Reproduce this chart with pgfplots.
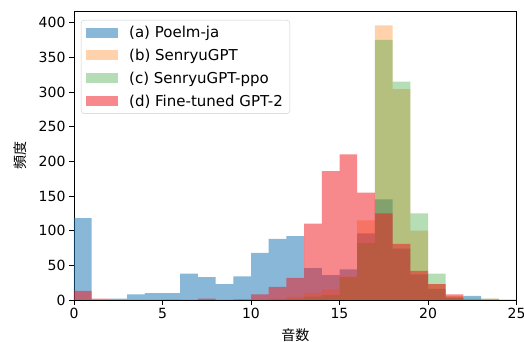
\documentclass[border=0pt]{standalone}
\usepackage{fontspec}
\setmainfont{DejaVu Sans}
\newfontfamily\jp{Noto Sans CJK JP}
\usepackage{pgfplots}
\pgfplotsset{compat=1.18}
\definecolor{tabblue}{RGB}{31,119,180}
\definecolor{taborange}{RGB}{255,127,14}
\definecolor{tabgreen}{RGB}{44,160,44}
\definecolor{tabred}{RGB}{240,20,28}
\pgfplotsset{
  patch/.style 2 args={legend image code/.code={\fill[sharp corners, draw=none, fill=#1, fill opacity=#2] (0pt,-5pt) rectangle (32pt,5pt); \path[sharp corners, draw=none, fill=none] (0pt,-10pt) rectangle (41pt,10pt);}}
}
\begin{document}
\begin{tikzpicture}
\begin{axis}[
  name=ax,
  scale only axis,
  width=442.5pt, height=288.3pt,
  xmin=0, xmax=25, ymin=0, ymax=415.8,
  xtick={0,5,...,25}, ytick={0,50,...,400},
  tick align=outside, xtick pos=bottom, ytick pos=left,
  major tick length=5pt,
  tick style={black, line width=0.8pt},
  axis line style={black, line width=0.9pt},
  ticklabel style={font=\fontsize{14}{16}\selectfont},
  /pgf/number format/assume math mode=true,
  xlabel={\jp 音数}, ylabel={\jp 頻度},
  xlabel style={at={(axis description cs:0.5,-0.1214)}, anchor=center, font=\fontsize{14}{16}\selectfont},
  ylabel style={at={(axis description cs:-0.1220,0.5)}, anchor=center, font=\fontsize{14}{16}\selectfont},
  legend cell align=left,
  legend style={at={(0,1)}, anchor=north west, xshift=7pt, yshift=-8.3pt,
    draw=black!20, rounded corners=3pt, fill=white, fill opacity=0.8, text opacity=1,
    font=\fontsize{15}{17}\selectfont, inner xsep=5pt, inner ysep=2.5pt, row sep=2.8pt},
]
\addplot[const plot, fill=tabblue, fill opacity=0.53, draw=none, patch={tabblue}{0.53}]
  coordinates {(0,118) (1,0) (2,2) (3,8) (4,10) (5,10) (6,38) (7,33) (8,23) (9,34) (10,68) (11,88) (12,92) (13,46) (14,36) (15,44) (16,96) (17,145) (18,74) (19,37) (20,16) (21,3) (22,6) (23,0) (24,0) (25,0)} \closedcycle;
\addlegendentry{(a) Poelm-ja}
\addplot[const plot, fill=taborange, fill opacity=0.35, draw=none, patch={taborange}{0.35}]
  coordinates {(0,0) (1,0) (2,0) (3,0) (4,0) (5,0) (6,0) (7,0) (8,0) (9,0) (10,1) (11,2) (12,5) (13,10) (14,15) (15,34) (16,115) (17,396) (18,304) (19,100) (20,23) (21,6) (22,1) (23,2) (24,0) (25,0)} \closedcycle;
\addlegendentry{(b) SenryuGPT}
\addplot[const plot, fill=tabgreen, fill opacity=0.35, draw=none, patch={tabgreen}{0.35}]
  coordinates {(0,0) (1,0) (2,0) (3,0) (4,0) (5,1) (6,0) (7,0) (8,0) (9,0) (10,0) (11,1) (12,2) (13,5) (14,7) (15,33) (16,82) (17,375) (18,315) (19,125) (20,38) (21,5) (22,2) (23,2) (24,0) (25,0)} \closedcycle;
\addlegendentry{(c) SenryuGPT-ppo}
\addplot[const plot, fill=tabred, fill opacity=0.5, draw=none, patch={tabred}{0.5}]
  coordinates {(0,13) (1,2) (2,0) (3,0) (4,0) (5,0) (6,0) (7,2) (8,0) (9,1) (10,8) (11,19) (12,32) (13,110) (14,186) (15,210) (16,155) (17,125) (18,81) (19,42) (20,23) (21,8) (22,0) (23,0) (24,0) (25,0)} \closedcycle;
\addlegendentry{(d) Fine-tuned GPT-2}
\end{axis}
\pgfresetboundingbox
\path[use as bounding box] ([shift={(-74pt,-42pt)}]ax.south west) rectangle ([shift={(7.5pt,11.7pt)}]ax.north east);
\end{tikzpicture}
\end{document}
